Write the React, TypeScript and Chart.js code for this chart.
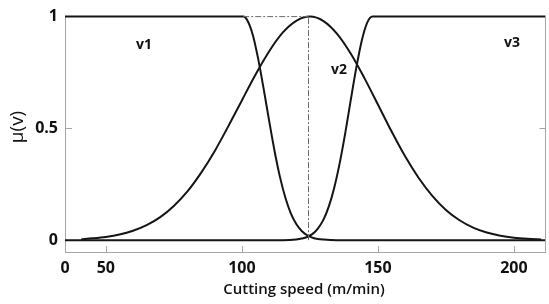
import React, { useEffect, useRef } from "react";
import { Chart, registerables } from "chart.js";

Chart.register(...registerables);

// Membership function v1 (cutting speed, membership)
const speedV1 = [35, 100.5, 102, 104, 106, 108, 110, 112, 114, 116, 118, 120, 122, 124, 126, 128, 130, 135, 211.6];
const muV1 = [1, 1, 0.984, 0.919, 0.811, 0.678, 0.536, 0.4, 0.283, 0.19, 0.12, 0.072, 0.041, 0.022, 0.011, 0.005, 0.0025, 0, 0];

// Membership function v2
const speedV2 = [41, 45, 50, 55, 60, 65, 70, 75, 80, 85, 90, 95, 100, 105, 110, 115, 120, 125, 130, 135, 140, 145, 150, 155, 160, 165, 170, 175, 180, 185, 190, 195, 200, 205, 210];
const muV2 = [0.0044, 0.0082, 0.0146, 0.025, 0.042, 0.067, 0.103, 0.153, 0.218, 0.301, 0.398, 0.509, 0.625, 0.74, 0.844, 0.928, 0.981, 1, 0.98, 0.923, 0.835, 0.726, 0.607, 0.487, 0.375, 0.278, 0.198, 0.135, 0.089, 0.056, 0.034, 0.02, 0.011, 0.006, 0.003];

// Membership function v3
const speedV3 = [35, 115, 120, 122, 124, 126, 128, 130, 132, 134, 136, 138, 140, 142, 144, 146, 148, 211.6];
const muV3 = [0, 0, 0.003, 0.007, 0.014, 0.028, 0.053, 0.092, 0.152, 0.237, 0.347, 0.479, 0.625, 0.767, 0.889, 0.971, 1, 1];

// Dashed guide lines
const guideTopX = [100.5, 124.5];
const guideTopY = [1, 1];
const guideVertX = [124.5, 124.5];
const guideVertY = [0, 1];

const xTickValues = [35, 50, 100, 150, 200];
const xTickLabels = ["0", "50", "100", "150", "200"];
const yTickValues = [0, 0.5, 1];
const yTickLabels = ["0", "0.5", "1"];

const setLabels = [
  { text: "v1", x: 144, y: 45 },
  { text: "v2", x: 339, y: 70 },
  { text: "v3", x: 512, y: 43 },
];

const xTitle = "Cutting speed (m/min)";
const yTitle = "μ(v)";

const toPoints = (xs: number[], ys: number[]) => xs.map((x, i) => ({ x, y: ys[i] }));

const AXIS_GRAY = "#a6a6a6";
const LINE = "#151515";

export default function App() {
  const canvasRef = useRef<HTMLCanvasElement | null>(null);

  useEffect(() => {
    if (!canvasRef.current) return;

    const decorPlugin = {
      id: "decor",
      afterDraw(chart: any) {
        const { ctx, chartArea, scales } = chart;
        const xs = scales.x;
        const ys = scales.y;
        ctx.save();
        // right border
        ctx.strokeStyle = AXIS_GRAY;
        ctx.lineWidth = 1;
        ctx.beginPath();
        ctx.moveTo(chartArea.right, chartArea.top);
        ctx.lineTo(chartArea.right, chartArea.bottom);
        ctx.stroke();
        // inward ticks on bottom
        ctx.beginPath();
        xTickValues.slice(1).forEach((v) => {
          const px = Math.round(xs.getPixelForValue(v)) + 0.5;
          ctx.moveTo(px, chartArea.bottom);
          ctx.lineTo(px, chartArea.bottom - 6);
        });
        // inward ticks at 0.5 on left and right
        const py = Math.round(ys.getPixelForValue(0.5)) + 0.5;
        ctx.moveTo(chartArea.left, py);
        ctx.lineTo(chartArea.left + 7, py);
        ctx.moveTo(chartArea.right, py);
        ctx.lineTo(chartArea.right - 6, py);
        ctx.stroke();

        // set labels
        ctx.fillStyle = "#111";
        ctx.textAlign = "center";
        ctx.textBaseline = "middle";
        ctx.font = "bold 14px 'Open Sans'";
        setLabels.forEach((l) => ctx.fillText(l.text, l.x, l.y));

        // x title
        ctx.font = "600 15px 'Open Sans'";
        ctx.fillText(xTitle, 304, 290);

        // y title
        ctx.translate(18, 127);
        ctx.rotate(-Math.PI / 2);
        ctx.font = "500 19px 'Open Sans'";
        ctx.fillText(yTitle, 0, 0);
        ctx.restore();
      },
    };

    const lineDs = (xs: number[], ys: number[]) => ({
      data: toPoints(xs, ys),
      borderColor: LINE,
      borderWidth: 2,
      pointRadius: 0,
      fill: false,
      cubicInterpolationMode: "monotone" as const,
      clip: 4,
    });

    const dashDs = (xs: number[], ys: number[]) => ({
      data: toPoints(xs, ys),
      borderColor: "#6a6a6a",
      borderWidth: 1,
      borderDash: [6, 2, 2, 2],
      pointRadius: 0,
      fill: false,
      clip: 4,
    });

    const chart = new Chart(canvasRef.current, {
      type: "line",
      data: {
        datasets: [
          dashDs(guideTopX, guideTopY),
          dashDs(guideVertX, guideVertY),
          lineDs(speedV1, muV1),
          lineDs(speedV2, muV2),
          lineDs(speedV3, muV3),
        ] as any,
      },
      options: {
        animation: false,
        responsive: false,
        devicePixelRatio: 1,
        layout: { padding: { top: 14, right: 3.5, bottom: 0, left: 0 } },
        plugins: { legend: { display: false }, tooltip: { enabled: false } },
        scales: {
          x: {
            type: "linear",
            min: 35,
            max: 211.6,
            afterBuildTicks: (s: any) => {
              s.ticks = xTickValues.map((v) => ({ value: v }));
            },
            afterFit: (s: any) => {
              s.height = 52;
            },
            ticks: {
              callback: (v: any) => {
                const i = xTickValues.indexOf(Number(v));
                return i >= 0 ? xTickLabels[i] : "";
              },
              font: { family: "'Open Sans'", size: 16, weight: "bold" },
              color: "#111",
              padding: 7,
              maxRotation: 0,
              autoSkip: false,
            },
            grid: { display: true, drawOnChartArea: false, drawTicks: false },
            border: { display: true, color: AXIS_GRAY, width: 1 },
          },
          y: {
            type: "linear",
            min: -0.053,
            max: 1,
            afterBuildTicks: (s: any) => {
              s.ticks = yTickValues.map((v) => ({ value: v }));
            },
            afterFit: (s: any) => {
              s.width = 65;
            },
            ticks: {
              callback: (v: any) => {
                const i = yTickValues.indexOf(Number(v));
                return i >= 0 ? yTickLabels[i] : "";
              },
              font: { family: "'Open Sans'", size: 16, weight: "bold" },
              color: "#111",
              padding: 7,
              autoSkip: false,
            },
            grid: { display: true, drawOnChartArea: false, drawTicks: false },
            border: { display: true, color: AXIS_GRAY, width: 1 },
          },
        },
      } as any,
      plugins: [decorPlugin],
    });

    return () => chart.destroy();
  }, []);

  return (
    <div style={{ position: "absolute", left: 0, top: 0, width: 549, height: 304, background: "#fff" }}>
      <canvas ref={canvasRef} width={549} height={304} style={{ display: "block" }} />
    </div>
  );
}
